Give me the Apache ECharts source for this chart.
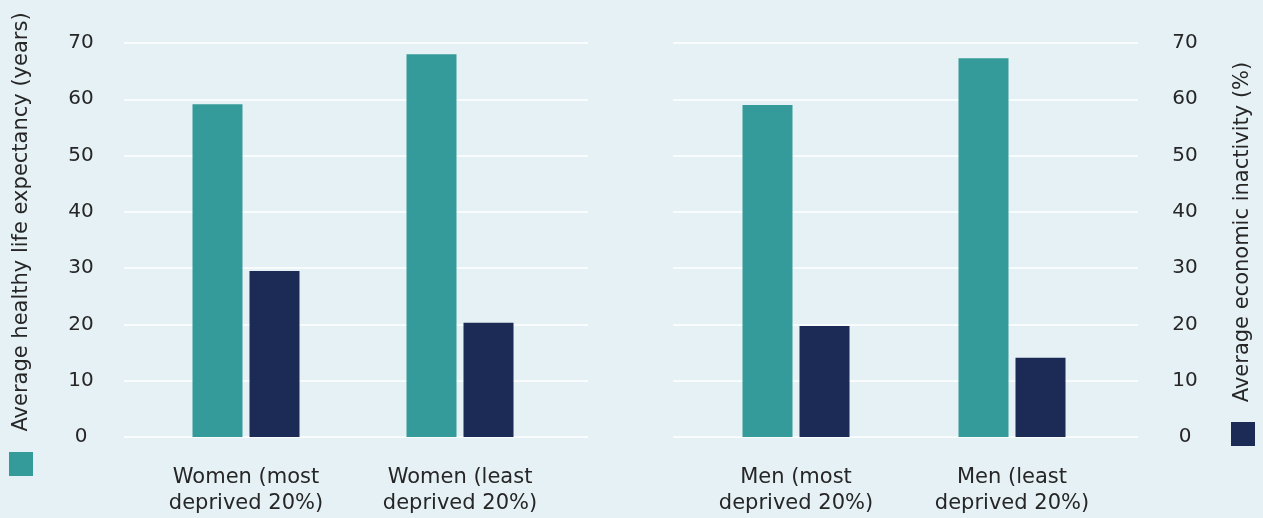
<!DOCTYPE html>
<html>
<head>
<meta charset="utf-8">
<script src="https://cdn.jsdelivr.net/npm/echarts@6/dist/echarts.min.js"></script>
<style>
html,body{margin:0;padding:0;background:#E6F1F6;}
#chart{width:1263px;height:518px;}
</style>
</head>
<body>
<div id="chart"></div>
<script>
// ---- data ----
const womenCategories = ['Women (most\ndeprived 20%)', 'Women (least\ndeprived 20%)'];
const menCategories = ['Men (most\ndeprived 20%)', 'Men (least\ndeprived 20%)'];
const womenLifeExpectancy = [59.1, 68.0];
const womenInactivity = [29.5, 20.3];
const menLifeExpectancy = [59.0, 67.3];
const menInactivity = [19.7, 14.1];
const yTicks = [0, 10, 20, 30, 40, 50, 60, 70];
const leftTitle = 'Average healthy life expectancy (years)';
const rightTitle = 'Average economic inactivity (%)';
const seriesNames = ['Average healthy life expectancy (years)', 'Average economic inactivity (%)'];

const TEAL = '#349B9A', NAVY = '#1C2B55', TXT = '#262626';
const FONT = "'DejaVu Sans', sans-serif";
const FS_TICK = 20, FS_CAT = 21, FS_TITLE = 21;
const yMin = yTicks[0], yMax = yTicks[yTicks.length - 1], yInt = yTicks[1] - yTicks[0];
const TOP = 43, BOTTOM = 518 - 437;

const chart = echarts.init(document.getElementById('chart'), null, {renderer: 'canvas'});

function hiddenY(grid) {
  return {type: 'value', gridIndex: grid, min: yMin, max: yMax, interval: yInt,
    show: false, splitLine: {show: false}};
}
function gridY(grid, pos, margin) {
  return {type: 'value', gridIndex: grid, position: pos, min: yMin, max: yMax, interval: yInt,
    axisLine: {show: false}, axisTick: {show: false},
    axisLabel: {color: TXT, fontFamily: FONT, fontSize: FS_TICK, margin: margin, align: 'center'},
    splitLine: {show: true, lineStyle: {color: '#ffffff', width: 1.5}}};
}
function catX(grid, data) {
  return {type: 'category', gridIndex: grid, data: data,
    axisLine: {show: false}, axisTick: {show: false},
    axisLabel: {color: TXT, fontFamily: FONT, fontSize: FS_CAT, lineHeight: 26, margin: 28, interval: 0}};
}

const option = {
  backgroundColor: '#E6F1F6',
  animation: false,
  grid: [
    {left: 124, right: 1263 - 588, top: TOP, bottom: BOTTOM},
    {left: 139, right: 1263 - 567, top: TOP, bottom: BOTTOM},
    {left: 673, right: 1263 - 1138, top: TOP, bottom: BOTTOM},
    {left: 688, right: 1263 - 1120, top: TOP, bottom: BOTTOM}
  ],
  xAxis: [
    {type: 'category', gridIndex: 0, data: womenCategories, show: false},
    catX(1, womenCategories),
    {type: 'category', gridIndex: 2, data: menCategories, show: false},
    catX(3, menCategories)
  ],
  yAxis: [
    gridY(0, 'left', 43),
    hiddenY(1),
    hiddenY(1),
    gridY(2, 'right', 47),
    hiddenY(3),
    hiddenY(3)
  ],
  legend: [
    {data: [seriesNames[0]], left: 9, top: 452, itemWidth: 24, itemHeight: 24, icon: 'rect',
      formatter: () => '', selectedMode: false, padding: 0},
    {data: [seriesNames[1]], left: 1231, top: 422, itemWidth: 24, itemHeight: 24, icon: 'rect',
      formatter: () => '', selectedMode: false, padding: 0}
  ],
  graphic: [
    {type: 'text', x: 22, y: 222, rotation: Math.PI / 2,
      style: {text: leftTitle, fill: TXT, font: FS_TITLE + "px 'DejaVu Sans', sans-serif", align: 'center', verticalAlign: 'middle'}},
    {type: 'text', x: 1243, y: 232, rotation: Math.PI / 2,
      style: {text: rightTitle, fill: TXT, font: FS_TITLE + "px 'DejaVu Sans', sans-serif", align: 'center', verticalAlign: 'middle'}}
  ],
  series: [
    {name: seriesNames[0], type: 'bar', xAxisIndex: 1, yAxisIndex: 1, data: womenLifeExpectancy,
      barWidth: 50, barGap: '14%', itemStyle: {color: TEAL}},
    {name: seriesNames[1], type: 'bar', xAxisIndex: 1, yAxisIndex: 2, data: womenInactivity,
      barWidth: 50, barGap: '14%', itemStyle: {color: NAVY}},
    {name: seriesNames[0], type: 'bar', xAxisIndex: 3, yAxisIndex: 4, data: menLifeExpectancy,
      barWidth: 50, barGap: '14%', itemStyle: {color: TEAL}},
    {name: seriesNames[1], type: 'bar', xAxisIndex: 3, yAxisIndex: 5, data: menInactivity,
      barWidth: 50, barGap: '14%', itemStyle: {color: NAVY}}
  ]
};
chart.setOption(option);
</script>
</body>
</html>
